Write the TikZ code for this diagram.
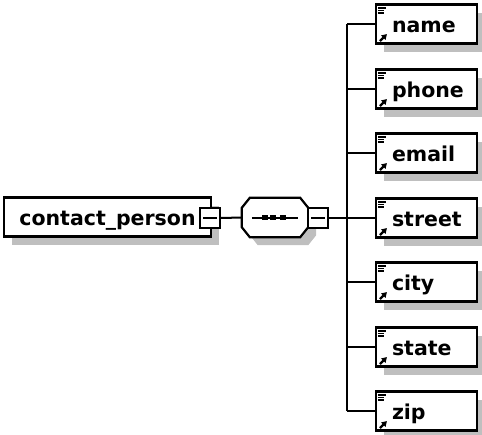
\documentclass[tikz,border=0pt]{standalone}
\usepackage{fontspec}
\setmainfont{DejaVu Sans}
\usetikzlibrary{shadows,arrows.meta}
\tikzset{
  boxshadow/.style={drop shadow={shadow xshift=8pt,shadow yshift=-8pt,fill=black!25,opacity=1}},
  elem/.style={draw,line width=2.2pt,fill=white,inner sep=0pt,minimum height=39pt,
    text height=20pt,text depth=4pt,boxshadow,font=\fontsize{20.5}{23}\selectfont\bfseries},
  child/.style={elem,minimum width=101pt,text width=69pt,align=left},
  toggle/.style={draw,line width=1.8pt,fill=white,minimum size=20pt,inner sep=0pt},
  bus/.style={line width=2pt},
}
\def\elemicons(#1){%
  \draw[line width=1.2pt] ([shift={(3pt,-4.5pt)}]#1.north west) -- ++(8pt,0pt);
  \foreach \dy in {7,9.5} \draw[line width=1.2pt] ([shift={(3pt,-\dy pt)}]#1.north west) -- ++(6.5pt,0pt);
  \draw[line width=2.2pt,-{Triangle[length=5pt,width=6pt]}] ([shift={(5pt,3.5pt)}]#1.south west) -- ++(7pt,7pt);
}
\begin{document}
\begin{tikzpicture}[x=1pt,y=-1pt]
			%%%%% START %%%%%
			\useasboundingbox (0,0) rectangle (482,434);
			
			\node[elem,minimum width=207pt] (contact) at (107.5,217) {contact\_person};
			\node[toggle] (contactm) at (210,218) {};
			\draw[line width=1.8pt] ([xshift=4pt]contactm.west) -- ([xshift=-4pt]contactm.east);
			
			% sequence octagon
			\node[minimum width=66pt,minimum height=39pt,inner sep=0pt] (seq) at (275,217.5) {};
			\fill[black!25,transform canvas={shift={(8pt,-8pt)}}] ([xshift=8pt]seq.north west) -- ([xshift=-8pt]seq.north east) -- ([yshift=-10pt]seq.north east)
			  -- ([yshift=10pt]seq.south east) -- ([xshift=-8pt]seq.south east) -- ([xshift=8pt]seq.south west)
			  -- ([yshift=10pt]seq.south west) -- ([yshift=-10pt]seq.north west) -- cycle;
			\draw[line width=2.2pt,fill=white] ([xshift=8pt]seq.north west) -- ([xshift=-8pt]seq.north east) -- ([yshift=-10pt]seq.north east)
			  -- ([yshift=10pt]seq.south east) -- ([xshift=-8pt]seq.south east) -- ([xshift=8pt]seq.south west)
			  -- ([yshift=10pt]seq.south west) -- ([yshift=-10pt]seq.north west) -- cycle;
			\draw[line width=2pt] ([xshift=10pt]seq.west) -- ([xshift=-10pt]seq.east);
			\foreach \dx in {-10,-2,8} \fill ([shift={(\dx pt-2.6pt,-2.6pt)}]seq.center) rectangle ++(5.2pt,5.2pt);
			\node[toggle] (seqm) at (318,218) {};
			\draw[line width=1.8pt] ([xshift=4pt]seqm.west) -- ([xshift=-4pt]seqm.east);
			
			\draw[bus] (contactm.east) -- (seq.west);
			
			\node[child] (name) at (426.5,24) {name};
			\node[child] (phone) at (426.5,89) {phone};
			\node[child] (email) at (426.5,153) {email};
			\node[child] (street) at (426.5,218) {street};
			\node[child] (city) at (426.5,282) {city};
			\node[child] (state) at (426.5,347) {state};
			\node[child] (zip) at (426.5,411) {zip};
			
			\elemicons(name)
			\elemicons(phone)
			\elemicons(email)
			\elemicons(street)
			\elemicons(city)
			\elemicons(state)
			\elemicons(zip)
			
			\coordinate (busx) at (347,218);
			\draw[bus] (seqm.east) -- (street.west);
			\draw[bus] (name.west -| busx) -- (zip.west -| busx);
			\draw[bus] (name.west -| busx) -- (name.west);
			\draw[bus] (phone.west -| busx) -- (phone.west);
			\draw[bus] (email.west -| busx) -- (email.west);
			\draw[bus] (city.west -| busx) -- (city.west);
			\draw[bus] (state.west -| busx) -- (state.west);
			\draw[bus] (zip.west -| busx) -- (zip.west);
			
			%%%%% END %%%%%
\end{tikzpicture}
\end{document}
